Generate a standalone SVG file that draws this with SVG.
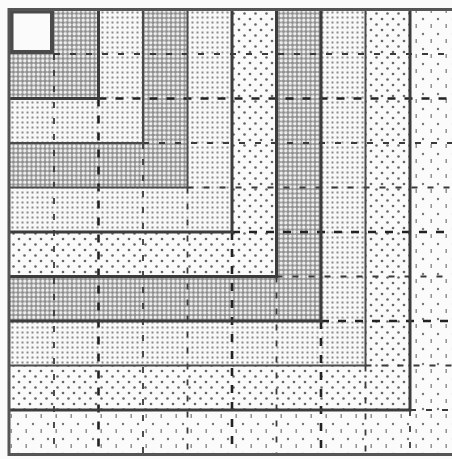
<svg xmlns="http://www.w3.org/2000/svg" width="452" height="459" viewBox="0 0 452 459">
<defs>
<pattern id="pDark" width="4.5" height="4.5" patternUnits="userSpaceOnUse">
<rect width="4.5" height="4.5" fill="#8e8e8e"/>
<circle cx="2.25" cy="2.25" r="1.75" fill="#eeeeee"/>
</pattern>
<pattern id="pGrid" width="5" height="5" patternUnits="userSpaceOnUse">
<rect width="5" height="5" fill="#f8f8f8"/>
<rect x="1.5" y="1.5" width="2" height="2" fill="#8a8a8a"/>
</pattern>
<pattern id="pDots" width="11" height="11" patternUnits="userSpaceOnUse">
<rect width="11" height="11" fill="#fafafa"/>
<circle cx="2.5" cy="2.5" r="1.3" fill="#666"/>
<circle cx="8" cy="8" r="1.3" fill="#666"/>
</pattern>
<pattern id="pSparse" width="15" height="15" patternUnits="userSpaceOnUse">
<rect width="15" height="15" fill="#fbfbfb"/>
<circle cx="3" cy="4" r="1.2" fill="#777"/>
<rect x="10.5" y="9" width="1.4" height="4" fill="#888"/>
</pattern>
</defs>
<style>
.dark{fill:url(#pDark)}
.grid{fill:url(#pGrid)}
.dots{fill:url(#pDots)}
.sparse{fill:url(#pSparse)}
.edge{fill:none;stroke:#4a4a4a;stroke-width:2}
.heavy{fill:none;stroke:#3c3c3c;stroke-width:3}
.seam{fill:none;stroke:#3a3a3a;stroke-width:1.8;stroke-dasharray:6 10}
.seamH{fill:none;stroke:#222;stroke-width:2.6;stroke-dasharray:8 9}
.frame{fill:none;stroke:#555;stroke-width:3}
</style>
<rect width="452" height="459" fill="#fbfbfb"/>
<g id="band0"><rect x="11.5" y="11.5" width="40.5" height="40.5" fill="#fbfbfb" stroke="#4a4a4a" stroke-width="4"/></g>
<g id="band1"><path class="dark" d="M9.5 54 H54 V9.5 H98.5 V98.5 H9.5 Z"/></g>
<g id="band2"><path class="grid" d="M9.5 98.5 H98.5 V9.5 H143 V143 H9.5 Z"/></g>
<g id="band3"><path class="dark" d="M9.5 143 H143 V9.5 H187.5 V187.5 H9.5 Z"/></g>
<g id="band4"><path class="grid" d="M9.5 187.5 H187.5 V9.5 H232 V232 H9.5 Z"/></g>
<g id="band5"><path class="dots" d="M9.5 232 H232 V9.5 H276.5 V276.5 H9.5 Z"/></g>
<g id="band6"><path class="dark" d="M9.5 276.5 H276.5 V9.5 H321 V321 H9.5 Z"/></g>
<g id="band7"><path class="grid" d="M9.5 321 H321 V9.5 H365.5 V365.5 H9.5 Z"/></g>
<g id="band8"><path class="dots" d="M9.5 365.5 H365.5 V9.5 H410 V410 H9.5 Z"/></g>
<g id="band9"><path class="sparse" d="M9.5 410 H410 V9.5 H454.5 V454.5 H9.5 Z"/></g>
<g id="lines">
<path class="seam" d="M54 54 H454.5 M54 54 V454.5"/>
<path class="seamH" d="M98.5 98.5 H454.5 M98.5 98.5 V454.5"/>
<path class="seam" d="M143 143 H454.5 M143 143 V454.5"/>
<path class="seam" d="M187.5 187.5 H454.5 M187.5 187.5 V454.5"/>
<path class="seamH" d="M232 232 H454.5 M232 232 V454.5"/>
<path class="seam" d="M276.5 276.5 H454.5 M276.5 276.5 V454.5"/>
<path class="seamH" d="M321 321 H454.5 M321 321 V454.5"/>
<path class="seam" d="M365.5 365.5 H454.5 M365.5 365.5 V454.5"/>
<path class="seam" d="M410 410 H454.5 M410 410 V454.5"/>
<path class="heavy" d="M9.5 98.5 H98.5 V9.5"/>
<path class="edge" d="M9.5 143 H143 V9.5"/>
<path class="edge" d="M9.5 187.5 H187.5 V9.5"/>
<path class="heavy" d="M9.5 232 H232 V9.5"/>
<path class="heavy" d="M9.5 276.5 H276.5 V9.5"/>
<path class="heavy" d="M9.5 321 H321 V9.5"/>
<path class="edge" d="M9.5 365.5 H365.5 V9.5"/>
<path class="heavy" d="M9.5 410 H410 V9.5"/>
<path class="frame" d="M8 9.5 H452 M9 8 V456 M8 454.5 H452"/>
</g>
</svg>
